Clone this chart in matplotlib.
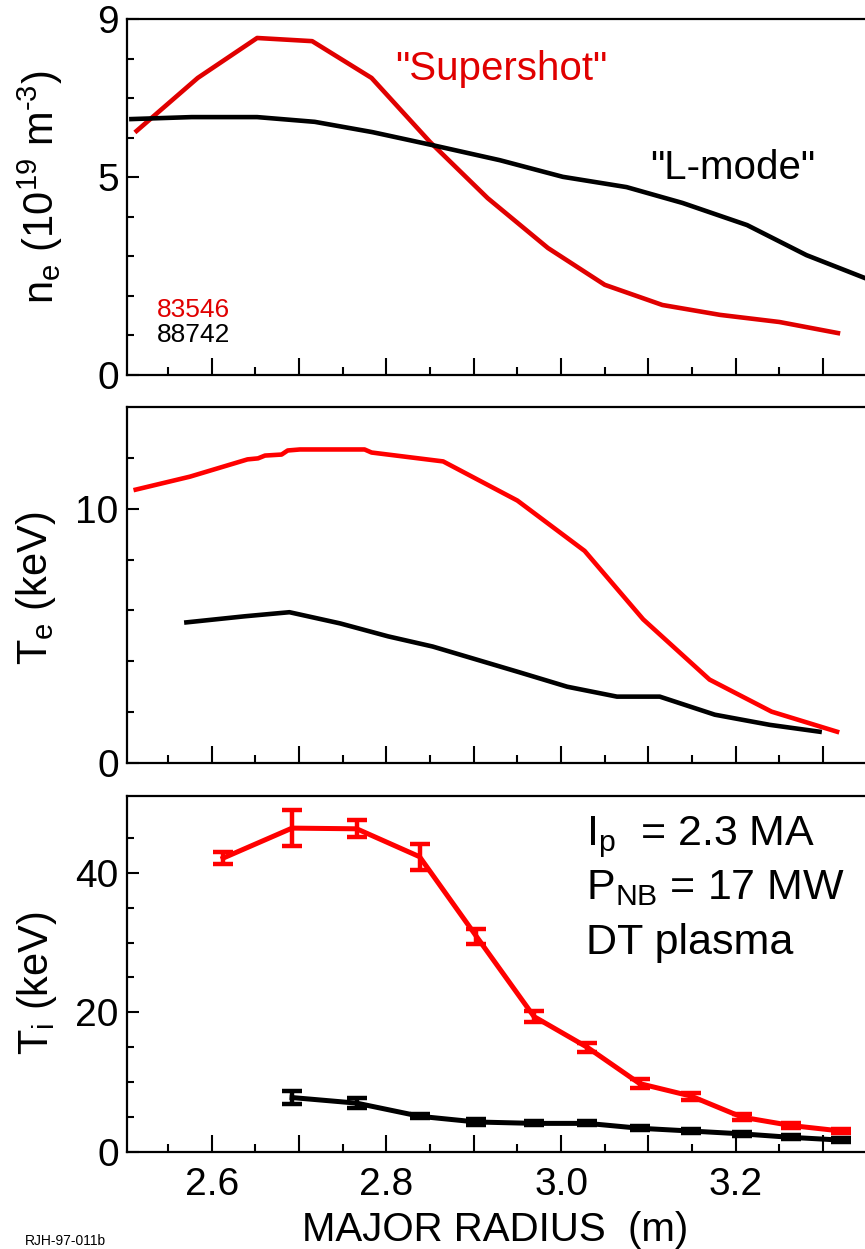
import matplotlib
matplotlib.use("Agg")
import matplotlib.pyplot as plt
from matplotlib.ticker import FixedLocator, FixedFormatter

plt.rcParams['font.family'] = ['Liberation Sans', 'DejaVu Sans']
plt.rcParams['mathtext.default'] = 'regular'

# ---------------- data ----------------
# electron density (1e19 m^-3)
ne_ss_r = [2.514, 2.584, 2.652, 2.715, 2.783, 2.850, 2.916, 2.985, 3.050, 3.116, 3.182, 3.250, 3.317]
ne_ss = [6.17, 7.51, 8.52, 8.44, 7.51, 5.89, 4.47, 3.21, 2.28, 1.77, 1.52, 1.34, 1.06]
ne_lm_r = [2.508, 2.577, 2.652, 2.718, 2.784, 2.853, 2.930, 3.002, 3.075, 3.139, 3.213, 3.281, 3.348]
ne_lm = [6.47, 6.52, 6.52, 6.40, 6.14, 5.81, 5.43, 5.01, 4.75, 4.35, 3.79, 3.03, 2.45]

# electron temperature (keV)
te_ss_r = [2.513, 2.575, 2.641, 2.653, 2.661, 2.680, 2.687, 2.701, 2.775, 2.783, 2.865, 2.950, 3.027, 3.094, 3.170, 3.241, 3.316]
te_ss = [10.75, 11.26, 11.94, 11.98, 12.09, 12.13, 12.29, 12.33, 12.33, 12.21, 11.86, 10.32, 8.34, 5.65, 3.28, 2.02, 1.23]
te_lm_r = [2.571, 2.638, 2.689, 2.747, 2.802, 2.853, 2.953, 3.007, 3.064, 3.113, 3.176, 3.239, 3.296]
te_lm = [5.53, 5.77, 5.93, 5.49, 4.98, 4.58, 3.56, 3.00, 2.61, 2.61, 1.90, 1.50, 1.23]

# ion temperature (keV) with error bars
ti_ss_r = [2.613, 2.692, 2.766, 2.838, 2.903, 2.969, 3.030, 3.090, 3.149, 3.207, 3.263, 3.321]
ti_ss = [42.1, 46.4, 46.3, 42.3, 30.9, 19.4, 15.0, 9.8, 8.0, 5.0, 3.8, 3.0]
ti_ss_err = [0.85, 2.6, 1.2, 1.85, 1.1, 0.8, 0.65, 0.6, 0.5, 0.4, 0.3, 0.3]
ti_lm_r = [2.692, 2.766, 2.839, 2.903, 2.969, 3.030, 3.090, 3.149, 3.207, 3.263, 3.321]
ti_lm = [7.8, 7.0, 5.1, 4.3, 4.1, 4.1, 3.4, 3.0, 2.6, 2.1, 1.7]
ti_lm_err = [0.9, 0.7, 0.3, 0.4, 0.3, 0.3, 0.3, 0.3, 0.3, 0.3, 0.3]

x_major = [2.6, 2.7, 2.8, 2.9, 3.0, 3.1, 3.2, 3.3]
x_major_labels = ['2.6', '', '2.8', '', '3.0', '', '3.2', '']
x_minor = [2.55, 2.65, 2.75, 2.85, 2.95, 3.05, 3.15, 3.25]

RED1 = '#e00000'
RED2 = '#ff0000'

fig = plt.figure(figsize=(8.65, 12.49), dpi=100)
W, H = 865, 1249
left_px, right_px = 127, 865
panels_px = [(19, 375), (407, 763), (796, 1152)]
axes = []
for top, bot in panels_px:
    ax = fig.add_axes([left_px / W, 1 - bot / H, (right_px - left_px) / W, (bot - top) / H])
    axes.append(ax)

TICK_FS = 28
for ax in axes:
    ax.set_xlim(2.503, 3.348)
    for s in ['left', 'bottom', 'top']:
        ax.spines[s].set_linewidth(1.6)
    ax.spines['right'].set_visible(False)
    ax.xaxis.set_major_locator(FixedLocator(x_major))
    ax.xaxis.set_minor_locator(FixedLocator(x_minor))
    ax.tick_params(axis='x', which='major', direction='in', length=12, width=1.5,
                   labelsize=TICK_FS, pad=11, top=False)
    ax.tick_params(axis='x', which='minor', direction='in', length=5.8, width=1.5, top=False)
    ax.tick_params(axis='y', which='major', direction='in', length=8.6, width=1.5,
                   labelsize=TICK_FS, pad=6, right=False)
    ax.tick_params(axis='y', which='minor', direction='in', length=5, width=1.5, right=False)

for ax in axes[:2]:
    ax.tick_params(axis='x', labelbottom=False)
axes[2].xaxis.set_major_formatter(FixedFormatter(x_major_labels))


def ylab(ax, s, xc, yc):
    ax.text(xc, yc, s, transform=ax.transAxes, rotation=90, ha='center', va='center',
            fontsize=30)


lw = 3.3
# ---- panel 1: ne ----
ax = axes[0]
ax.plot(ne_ss_r, ne_ss, color=RED1, lw=lw)
ax.plot(ne_lm_r, ne_lm, color='black', lw=lw)
ax.set_ylim(0, 9)
ax.yaxis.set_major_locator(FixedLocator([0, 5, 9]))
ax.yaxis.set_minor_locator(FixedLocator([1, 2, 3, 4, 6, 7, 8]))
ylab(ax, 'n$_{e}$ (10$^{19}$ m$^{\u2010 3}$)', (40 - 127) / 738, 1 - (187 - 19) / 356)
ax.text(2.81, 7.46, '"Supershot"', color=RED1, fontsize=29, ha='left', va='baseline')
ax.text(3.1015, 4.95, '"L-mode"', color='black', fontsize=29, ha='left', va='baseline')
ax.text(2.537, 1.47, '83546', color=RED1, fontsize=19, ha='left', va='baseline')
ax.text(2.537, 0.83, '88742', color='black', fontsize=19, ha='left', va='baseline')

# ---- panel 2: Te ----
ax = axes[1]
ax.plot(te_ss_r, te_ss, color=RED2, lw=lw)
ax.plot(te_lm_r, te_lm, color='black', lw=lw)
ax.set_ylim(0, 14)
ax.yaxis.set_major_locator(FixedLocator([0, 10]))
ax.yaxis.set_minor_locator(FixedLocator([2, 4, 6, 8, 12]))
ylab(ax, r'T$_{e}$ (keV)', (36 - 127) / 738, 1 - (588 - 407) / 356)

# ---- panel 3: Ti ----
ax = axes[2]
ax.errorbar(ti_ss_r, ti_ss, yerr=ti_ss_err, color=RED2, lw=3.6, elinewidth=3.2,
            capsize=7, capthick=3.2)
ax.errorbar(ti_lm_r, ti_lm, yerr=ti_lm_err, color='black', lw=3.6, elinewidth=3.2,
            capsize=7, capthick=3.2)
ax.set_ylim(0, 51)
ax.yaxis.set_major_locator(FixedLocator([0, 20, 40]))
ax.yaxis.set_minor_locator(FixedLocator([5, 10, 15, 25, 30, 35, 45]))
ylab(ax, r'T$_{i}$ (keV)', (37 - 127) / 738, 1 - (983 - 796) / 356)
ax.text(3.029, 44.0, r'I$_{p}$  = 2.3 MA', fontsize=31, ha='left', va='baseline')
ax.text(3.029, 36.2, r'P$_{NB}$ = 17 MW', fontsize=31, ha='left', va='baseline')
ax.text(3.029, 28.3, 'DT plasma', fontsize=31, ha='left', va='baseline')

fig.text(495 / W, 1 - 1241 / H, 'MAJOR RADIUS  (m)', fontsize=29, ha='center', va='baseline')
fig.text(25 / W, 1 - 1245 / H, 'RJH-97-011b', fontsize=10, ha='left', va='baseline')

fig.savefig('out.png', dpi=100)
